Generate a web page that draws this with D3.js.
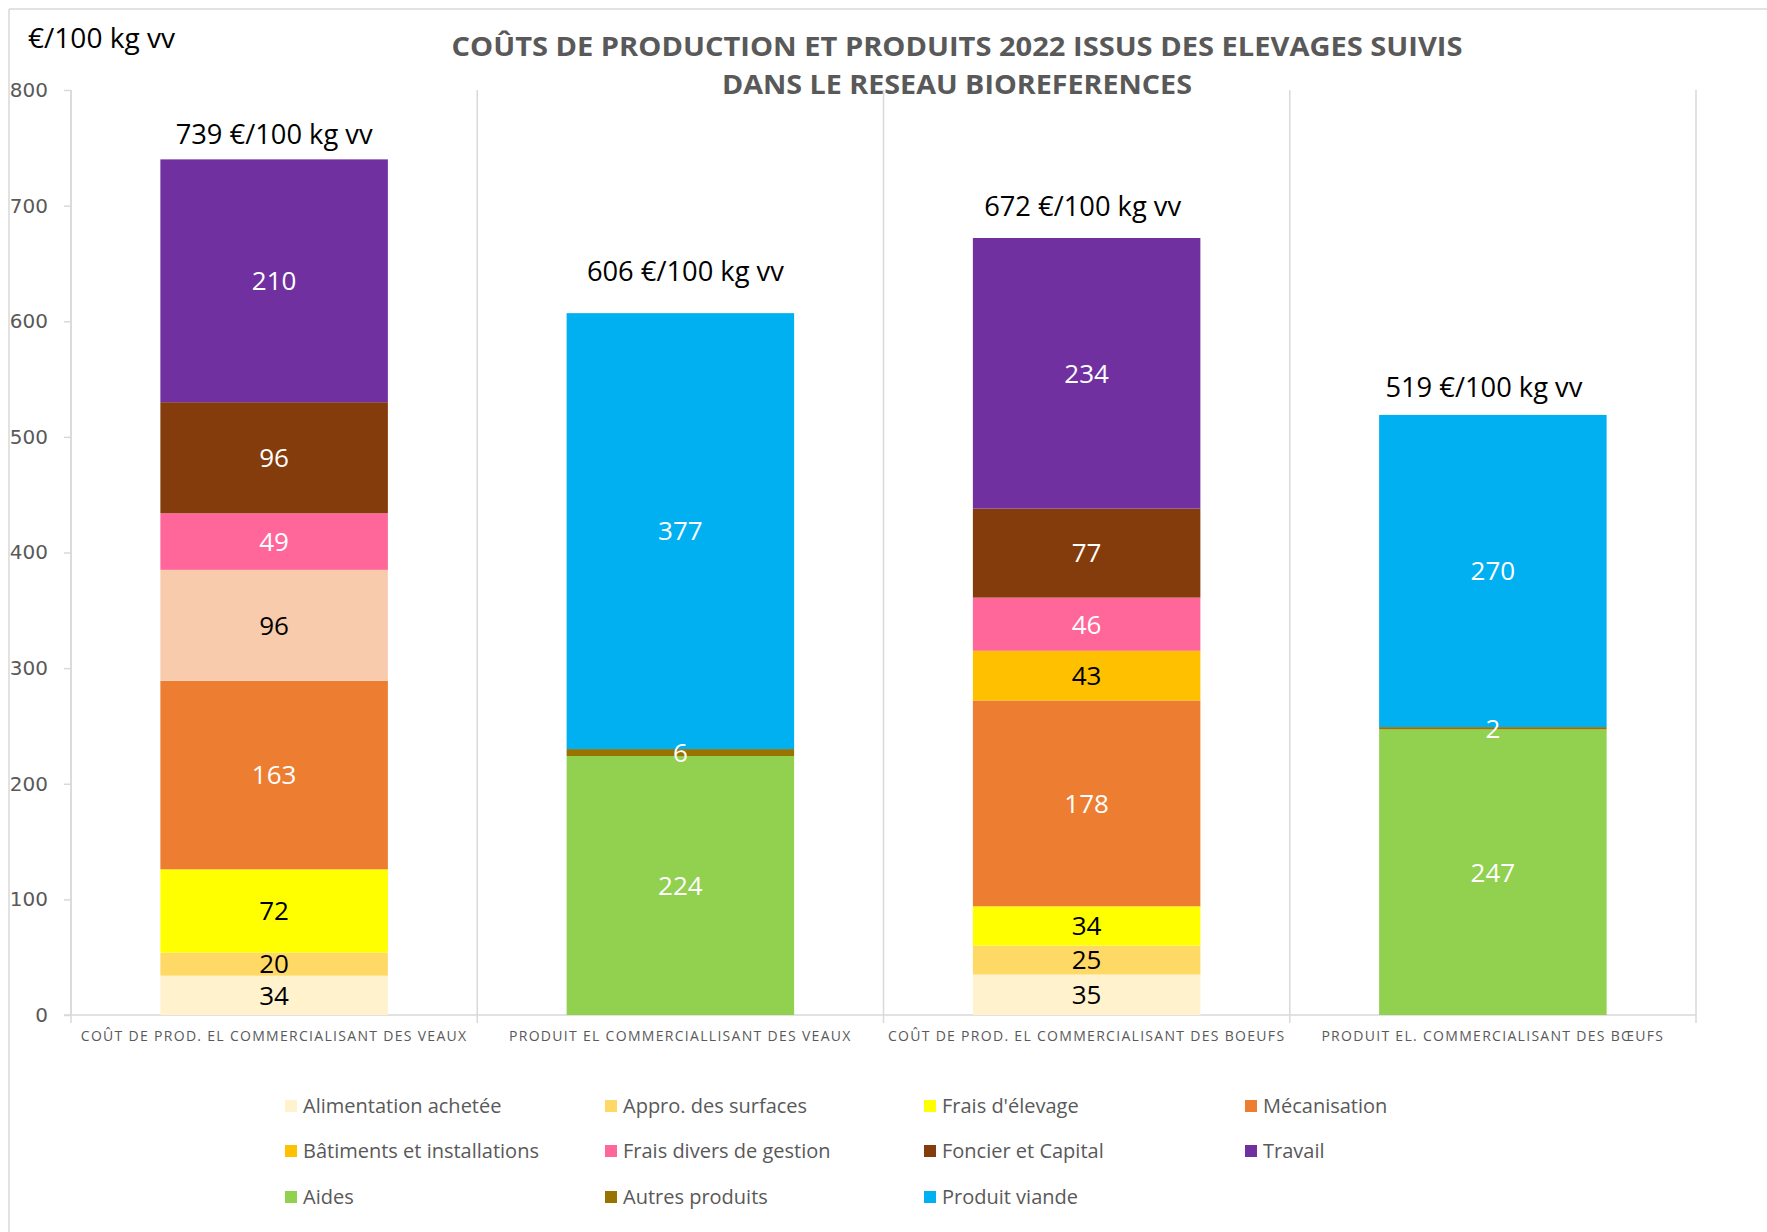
<!DOCTYPE html>
<html>
<head>
<meta charset="utf-8">
<script src="https://cdn.jsdelivr.net/npm/d3@7"></script>
<style>
  body { margin: 0; background: #fff; }
  svg { display: block; font-family: "Open Sans", sans-serif; }
</style>
</head>
<body>
<div id="chart"></div>
<script>
// Données
const categories = [
  'COÛT DE PROD. EL COMMERCIALISANT DES VEAUX',
  'PRODUIT EL COMMERCIALLISANT DES VEAUX',
  'COÛT DE PROD. EL COMMERCIALISANT DES BOEUFS',
  'PRODUIT EL. COMMERCIALISANT DES  BŒUFS'
];
const series = [
  'Alimentation achetée', 'Appro. des surfaces', "Frais d'élevage", 'Mécanisation',
  'Bâtiments et installations', 'Frais divers de gestion', 'Foncier et Capital', 'Travail',
  'Aides', 'Autres produits', 'Produit viande'
];
const alimentation = [34, 0, 35, 0];
const approSurfaces = [20, 0, 25, 0];
const fraisElevage = [72, 0, 34, 0];
const mecanisation = [163, 0, 178, 0];
const batiments = [96, 0, 43, 0];
const fraisDivers = [49, 0, 46, 0];
const foncier = [96, 0, 77, 0];
const travail = [210, 0, 234, 0];
const aides = [0, 224, 0, 247];
const autresProduits = [0, 6, 0, 2];
const produitViande = [0, 377, 0, 270];
const totals = [739, 606, 672, 519];
const yTicks = [0, 100, 200, 300, 400, 500, 600, 700, 800];

// Couleurs
const colors = ['#FFF2CC', '#FFD966', '#FFFF00', '#ED7D31', '#FFC000', '#FF6699',
                '#843C0C', '#7030A0', '#92D050', '#997300', '#00B0F0'];
const darkLabel = [false, false, false, true, false, true, true, true, true, true, true];
// décalage des étiquettes de total (px au-dessus de la barre, décalage horizontal)
const totalLift = [17, 33, 22, 18];
const totalShift = [0, 5, -4, -9];

const seriesValues = [alimentation, approSurfaces, fraisElevage, mecanisation, batiments,
  fraisDivers, foncier, travail, aides, autresProduits, produitViande];

let table = categories.map(function(c, i) {
  let row = { cat: c };
  series.forEach(function(s, j) { row[s] = seriesValues[j][i]; });
  return row;
});

const W = 1767, H = 1232;
const grey = '#595959', lineGrey = '#D9D9D9';

let svg = d3.select('#chart').append('svg').attr('width', W).attr('height', H);

// cadre
svg.append('line').attr('x1', 9).attr('x2', W).attr('y1', 9).attr('y2', 9).attr('stroke', lineGrey).attr('stroke-width', 1.5);
svg.append('line').attr('x1', 9).attr('x2', 9).attr('y1', 9).attr('y2', H).attr('stroke', lineGrey).attr('stroke-width', 1.5);

let x = d3.scaleBand().domain(categories).range([71, 1696]);
let y = d3.scaleLinear().domain([0, 800]).range([1015, 90]);
let bw = x.bandwidth();

// Axe Y
let yAxis = svg.append('g').attr('transform', 'translate(71,0)')
  .call(d3.axisLeft(y).tickValues(yTicks).tickSize(7).tickPadding(16));
yAxis.selectAll('.tick line').attr('stroke', lineGrey).attr('stroke-width', 1.5);
yAxis.select('.domain').attr('stroke', lineGrey).attr('stroke-width', 1.5).attr('d', 'M0,' + y(800) + 'V' + y(0));
yAxis.selectAll('.tick text').attr('fill', grey).style('font-family', '"DejaVu Sans", sans-serif').style('font-size', '20px');

// séparateurs verticaux
let bounds = categories.map(function(c) { return x(c); }).concat([x.range()[1]]);
svg.append('g').selectAll('line').data(bounds).enter().append('line')
  .attr('x1', function(d) { return d; }).attr('x2', function(d) { return d; })
  .attr('y1', y(800)).attr('y2', y(0) + 8)
  .attr('stroke', lineGrey).attr('stroke-width', 1.5);

// Axe X
svg.append('line').attr('x1', 64).attr('x2', x.range()[1]).attr('y1', y(0)).attr('y2', y(0))
  .attr('stroke', lineGrey).attr('stroke-width', 1.5);

svg.append('g').selectAll('text').data(categories).enter().append('text')
  .attr('x', function(d) { return x(d) + bw / 2; })
  .attr('y', 1041)
  .attr('text-anchor', 'middle')
  .attr('fill', grey)
  .style('font-size', '14px')
  .style('letter-spacing', '1.3px')
  .text(function(d) { return d; });

// Barres empilées
let stacked = d3.stack().keys(series)(table);
let barW = bw * 0.56;

let groups = svg.append('g').selectAll('g').data(stacked).enter().append('g')
  .attr('fill', function(d, i) { return colors[i]; });

groups.selectAll('rect')
  .data(function(d) { return d.filter(function(p) { return p[1] - p[0] > 0; }); })
  .enter().append('rect')
  .attr('x', function(d) { return x(d.data.cat) + (bw - barW) / 2; })
  .attr('y', function(d) { return y(d[1]); })
  .attr('width', barW)
  .attr('height', function(d) { return y(d[0]) - y(d[1]); })
  .attr('fill', function(d) {
    // le poste bâtiments du 1er bâtonnet est en saumon dans l'original
    if (d3.select(this.parentNode).datum().key === 'Bâtiments et installations' && d.data.cat === categories[0]) return '#F8CBAD';
    return null;
  });

// Étiquettes des segments (après toutes les barres)
let labels = svg.append('g');
stacked.forEach(function(s, i) {
  labels.append('g').selectAll('text')
    .data(s.filter(function(p) { return p[1] - p[0] > 0; }))
    .enter().append('text')
    .attr('x', function(d) { return x(d.data.cat) + bw / 2; })
    .attr('y', function(d) { return y((d[0] + d[1]) / 2); })
    .attr('dy', '0.36em')
    .attr('text-anchor', 'middle')
    .attr('fill', darkLabel[i] ? '#fff' : '#000')
    .style('font-size', '26px')
    .text(function(d) { return d[1] - d[0]; });
});

// Totaux
svg.append('g').selectAll('text').data(totals).enter().append('text')
  .attr('x', function(d, i) { return x(categories[i]) + bw / 2 + totalShift[i]; })
  .attr('y', function(d, i) { return y(d) - totalLift[i]; })
  .attr('text-anchor', 'middle')
  .attr('fill', '#000')
  .style('font-size', '27px')
  .attr('textLength', 197)
  .attr('lengthAdjust', 'spacingAndGlyphs')
  .text(function(d) { return d + ' €/100 kg vv'; });

// Unité
svg.append('text').attr('x', 28).attr('y', 48).attr('fill', '#000')
  .style('font-size', '27px').attr('textLength', 147).attr('lengthAdjust', 'spacingAndGlyphs')
  .text('€/100 kg vv');

// Titre
let titre = ['COÛTS DE PRODUCTION ET PRODUITS 2022 ISSUS DES ELEVAGES SUIVIS', 'DANS LE RESEAU BIOREFERENCES'];
let titreW = [1011, 470];
svg.append('g').selectAll('text').data(titre).enter().append('text')
  .attr('x', 957)
  .attr('y', function(d, i) { return 56 + i * 38; })
  .attr('text-anchor', 'middle')
  .attr('fill', grey)
  .style('font-size', '27px')
  .style('font-weight', 'bold')
  .attr('textLength', function(d, i) { return titreW[i]; })
  .attr('lengthAdjust', 'spacingAndGlyphs')
  .text(function(d) { return d; });

// Légende
let colX = [285, 605, 924, 1245];
let rowY = [1106, 1151, 1197];
let legend = svg.append('g').selectAll('g').data(series).enter().append('g')
  .attr('transform', function(d, i) { return 'translate(' + colX[i % 4] + ',' + rowY[Math.floor(i / 4)] + ')'; });
legend.append('rect').attr('x', 0).attr('y', -6).attr('width', 12).attr('height', 12)
  .attr('fill', function(d, i) { return colors[i]; });
legend.append('text').attr('x', 18).attr('y', 0).attr('dy', '0.35em')
  .attr('fill', grey).style('font-size', '20px')
  .text(function(d) { return d; });
</script>
</body>
</html>
